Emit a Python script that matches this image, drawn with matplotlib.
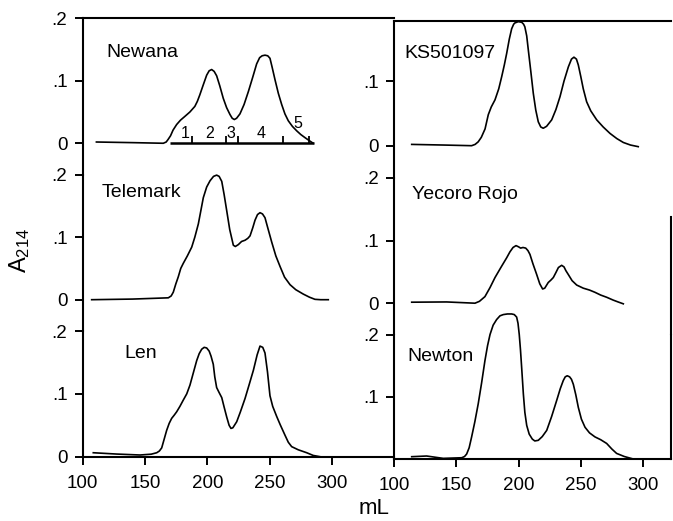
import matplotlib
matplotlib.use("Agg")
import matplotlib.pyplot as plt

plt.rcParams['font.family'] = ['Liberation Sans', 'DejaVu Sans']
plt.rcParams['mathtext.default'] = 'regular'

# ---- data (mL, A214) ----
newana_ml = [111, 140, 164.7, 167, 168.5, 170.5, 172.5, 175.4, 178.5, 182, 186, 190, 192, 194, 196.5,
             199.5, 201.5, 203.5, 205.5, 207.5, 210, 212.8, 215.5, 218.2, 220, 221.7, 223.5, 226.2,
             229.5, 233, 236.5, 239.6, 242, 244, 246.3, 248.5, 250.3, 252, 254.3, 257, 259.7, 262.3,
             265, 268.3, 271.7, 275, 278.4, 282, 285]
newana_a = [0.002, 0.001, 0.0, 0.002, 0.006, 0.012, 0.021, 0.030, 0.037, 0.043, 0.050, 0.059, 0.067,
            0.0775, 0.092, 0.109, 0.116, 0.118, 0.115, 0.108, 0.092, 0.072, 0.057, 0.046, 0.040, 0.038,
            0.040, 0.047, 0.062, 0.083, 0.106, 0.127, 0.137, 0.140, 0.141, 0.140, 0.136, 0.122, 0.102,
            0.080, 0.062, 0.047, 0.036, 0.027, 0.020, 0.014, 0.009, 0.004, 0.0]

ks_ml = [114, 140, 162.2, 165, 167.5, 170, 173, 175.6, 178, 181, 184, 186.4, 188.5, 190.4, 192.5,
         194.4, 196, 197, 199.7, 202.5, 204, 205, 206.5, 207.8, 209.8, 211.8, 213.8, 215.8, 217.8,
         219.8, 222.5, 226.6, 230, 233.3, 236.5, 240, 242.5, 244.5, 246.5, 248, 250, 252, 254.7,
         258, 262.8, 268, 273.5, 279, 284.2, 290, 296.2]
ks_a = [0.002, 0.001, 0.0, 0.002, 0.006, 0.013, 0.026, 0.048, 0.060, 0.071, 0.088, 0.107, 0.125,
        0.143, 0.165, 0.181, 0.188, 0.190, 0.192, 0.191, 0.188, 0.184, 0.170, 0.148, 0.115, 0.081,
        0.055, 0.037, 0.029, 0.027, 0.030, 0.040, 0.056, 0.076, 0.100, 0.122, 0.134, 0.137, 0.134,
        0.125, 0.107, 0.088, 0.068, 0.054, 0.040, 0.029, 0.019, 0.011, 0.005, 0.001, -0.0015]

telemark_ml = [107.2, 140, 168.7, 171, 172.7, 174.7, 176.7, 178.7, 180.7, 184, 187.5, 190, 192.8,
               194.8, 196.8, 199.5, 202.2, 205, 207.5, 209.5, 211.6, 213.5, 215.6, 218, 220.9, 222.5,
               224.9, 227.5, 230.3, 232.5, 234.3, 236.5, 238.3, 240.3, 242.3, 244.3, 246.3, 248.5,
               251.7, 255, 258.4, 262, 266.4, 271, 277, 282, 286.4, 291, 297.1]
telemark_a = [0.0, 0.001, 0.003, 0.006, 0.012, 0.025, 0.0365, 0.050, 0.058, 0.070, 0.084, 0.100,
              0.121, 0.142, 0.163, 0.180, 0.190, 0.197, 0.199, 0.197, 0.189, 0.168, 0.142, 0.112,
              0.087, 0.085, 0.088, 0.093, 0.095, 0.098, 0.102, 0.115, 0.127, 0.136, 0.139, 0.137,
              0.131, 0.115, 0.092, 0.070, 0.053, 0.036, 0.024, 0.016, 0.009, 0.004, 0.0006, 0.0, 0.0]

yecoro_ml = [114, 142.1, 164.9, 168.5, 172.9, 177, 181, 186, 190.4, 193, 195.5, 197.9, 200, 201.6,
             203.5, 205.7, 207.5, 209.1, 211.5, 214.5, 217, 219.3, 221, 223.8, 226, 227.9, 230, 232,
             234.6, 236.5, 238, 239.9, 243, 246.7, 252, 257, 261.4, 266, 270.8, 276, 280, 284.2]
yecoro_a = [0.0016, 0.002, 0.0, 0.003, 0.0105, 0.025, 0.041, 0.058, 0.0726, 0.082, 0.089, 0.092,
            0.090, 0.088, 0.089, 0.088, 0.084, 0.078, 0.063, 0.046, 0.031, 0.0227, 0.024, 0.033,
            0.037, 0.041, 0.049, 0.057, 0.0605, 0.058, 0.052, 0.046, 0.036, 0.029, 0.024, 0.021,
            0.0174, 0.013, 0.0095, 0.005, 0.002, -0.001]

len_ml = [108.5, 127.3, 146, 155, 159.4, 161.5, 163.4, 165.4, 167.4, 169.4, 171.4, 173.4, 175.4, 178,
          180.7, 183.5, 186.1, 189, 191.5, 193.5, 195.5, 197.5, 199.5, 201.5, 203, 204.8, 206, 207.5,
          209.5, 211.6, 213.5, 215.6, 217.5, 219, 220.5, 223.6, 226.5, 230.3, 233.5, 237, 240, 242.3,
          244.5, 246.3, 248.3, 250.3, 252.5, 255.7, 258.5, 262.4, 265, 267.7, 273, 279.8, 285, 290.5]
len_a = [0.0063, 0.0042, 0.0027, 0.004, 0.0063, 0.009, 0.014, 0.028, 0.042, 0.053, 0.061, 0.066,
         0.0714, 0.080, 0.090, 0.100, 0.114, 0.135, 0.153, 0.164, 0.171, 0.174, 0.173, 0.168, 0.160,
         0.147, 0.127, 0.110, 0.102, 0.094, 0.079, 0.063, 0.050, 0.045, 0.046, 0.0556, 0.071, 0.0927,
         0.114, 0.1376, 0.162, 0.176, 0.174, 0.165, 0.135, 0.097, 0.080, 0.064, 0.051, 0.034, 0.023,
         0.016, 0.011, 0.0063, 0.002, 0.0]

newton_ml = [114, 126, 139.4, 154.2, 156.5, 158.2, 160.2, 162.2, 164.8, 167.5, 170.2, 172.9, 175, 177,
             179.5, 182.3, 185, 187.7, 191, 194.4, 196.5, 198.4, 199.5, 200.5, 201.5, 202.5, 203.8,
             205, 206.5, 208.5, 211, 213, 215.8, 219, 222.6, 226.5, 230.6, 233.5, 235.9, 237.5,
             239.1, 241, 242.5, 244, 246, 248, 250.5, 253.4, 257, 261.4, 266, 270.8, 275, 278.8,
             285, 292.2]
newton_a = [0.0037, 0.0048, 0.001, 0.002, 0.004, 0.008, 0.018, 0.0355, 0.060, 0.0887, 0.122, 0.158,
            0.182, 0.200, 0.215, 0.224, 0.230, 0.232, 0.233, 0.233, 0.232, 0.228, 0.218, 0.200,
            0.175, 0.145, 0.1046, 0.075, 0.054, 0.040, 0.032, 0.029, 0.030, 0.036, 0.046, 0.068,
            0.094, 0.113, 0.126, 0.132, 0.1337, 0.132, 0.128, 0.120, 0.103, 0.083, 0.064, 0.051,
            0.042, 0.0355, 0.031, 0.025, 0.016, 0.009, 0.004, 0.0]

# fractions cut on the Newana run
frac_start, frac_end = 170, 285.8
frac_edges = [188, 215, 224.5, 261, 281.5]
frac_labels = ['1', '2', '3', '4', '5']

x_ticks = [100, 150, 200, 250, 300]

W, H = 673, 521
fig = plt.figure(figsize=(W / 100, H / 100), dpi=100)


def add_panel(left, top, right, bottom):
    # pixel box -> figure fraction
    return fig.add_axes([left / W, 1 - bottom / H, (right - left) / W, (bottom - top) / H])


def style(ax, xlim, ylim, yticks, show_top=False, show_bottom=False):
    ax.set_xlim(*xlim)
    ax.set_ylim(*ylim)
    ax.patch.set_alpha(0)
    for s in ['top', 'right', 'bottom']:
        ax.spines[s].set_visible(False)
    ax.spines['left'].set_linewidth(1.5)
    if show_top:
        ax.spines['top'].set_visible(True)
        ax.spines['top'].set_linewidth(1.5)
    ax.set_yticks(yticks)
    ax.set_yticklabels(['0' if v == 0 else ('%.1f' % v)[1:] for v in yticks])
    ax.tick_params(axis='y', direction='out', length=6, width=1.4, labelsize=13.5, pad=5)
    if show_bottom:
        ax.spines['bottom'].set_visible(True)
        ax.spines['bottom'].set_linewidth(1.5)
        ax.set_xticks(x_ticks)
        ax.tick_params(axis='x', direction='out', length=6, width=1.4, labelsize=13.5, pad=7)
    else:
        ax.set_xticks([])


line_kw = dict(color='black', lw=1.2, clip_on=False)
label_kw = dict(fontsize=14, ha='left', va='baseline')

# left column
ax1 = add_panel(82.7, 18.3, 394.2, 174.5)
style(ax1, (100, 350), (-0.05, 0.2), [0, 0.1, 0.2], show_top=True)
ax1.plot(newana_ml, newana_a, **line_kw)
ax1.hlines(0, frac_start, frac_end, color='black', lw=1.8)
ax1.vlines(frac_edges, 0, 0.012, color='black', lw=1.3)
for lab, xx, yy in zip(frac_labels, [182, 201.5, 219, 243.5, 272.5], [0.015] * 4 + [0.031]):
    ax1.text(xx, yy, lab, fontsize=11.5, ha='center', va='center')
ax1.text(119.3, 0.1377, 'Newana', **label_kw)

ax2 = add_panel(82.7, 174.5, 394.2, 331)
style(ax2, (100, 350), (-0.05, 0.2), [0, 0.1, 0.2])
ax2.plot(telemark_ml, telemark_a, **line_kw)
ax2.text(115.2, 0.1646, 'Telemark', **label_kw)

ax3 = add_panel(82.7, 331, 394.2, 456.7)
style(ax3, (100, 350), (0, 0.2), [0, 0.1, 0.2], show_bottom=True)
ax3.plot(len_ml, len_a, **line_kw)
ax3.text(133.1, 0.1567, 'Len', **label_kw)

# right column
ax4 = add_panel(394.3, 21, 671.3, 178)
style(ax4, (100, 322.8), (-0.05, 0.193), [0, 0.1], show_top=True)
ax4.plot(ks_ml, ks_a, **line_kw)
ax4.text(107.8, 0.135, 'KS501097', **label_kw)

ax5 = add_panel(394.3, 178, 671.3, 334.5)
style(ax5, (100, 322.8), (-0.05, 0.2), [0, 0.1, 0.2])
ax5.spines['right'].set_visible(True)
ax5.spines['right'].set_linewidth(1.5)
ax5.spines['right'].set_bounds(-0.05, 0.137)
ax5.plot(yecoro_ml, yecoro_a, **line_kw)
ax5.text(114, 0.166, 'Yecoro Rojo', **label_kw)

ax6 = add_panel(394.3, 334.5, 671.3, 459)
style(ax6, (100, 322.8), (0, 0.2), [0.1, 0.2], show_bottom=True)
ax6.spines['right'].set_visible(True)
ax6.spines['right'].set_linewidth(1.5)
ax6.plot(newton_ml, newton_a, **line_kw)
ax6.text(110.5, 0.158, 'Newton', **label_kw)

fig.text(20 / W, 1 - 250 / H, 'A$_{214}$', fontsize=17, rotation=90, ha='center', va='center')
fig.text(374 / W, 1 - 509 / H, 'mL', fontsize=16, ha='center', va='center')

fig.savefig('out.png', dpi=100)
